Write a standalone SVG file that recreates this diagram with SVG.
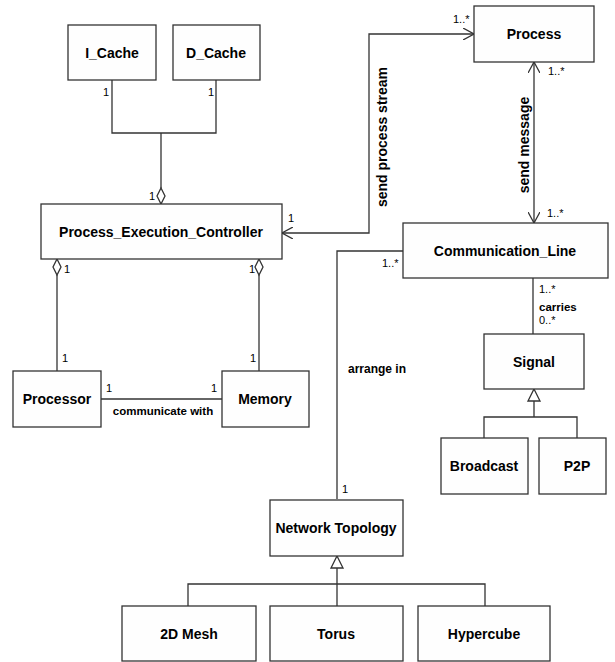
<svg xmlns="http://www.w3.org/2000/svg" width="615" height="662" viewBox="0 0 615 662">
<style>
.box{fill:#fefefe;stroke:#333;stroke-width:1.3}
.nl{font-family:"Liberation Sans",Arial,sans-serif;font-weight:bold;font-size:14px;fill:#000;text-anchor:middle}
.m{font-family:"Liberation Sans",Arial,sans-serif;font-size:11px;fill:#000}
.lb{font-family:"Liberation Sans",Arial,sans-serif;font-weight:bold;font-size:11.5px;fill:#000}
.rl{font-family:"Liberation Sans",Arial,sans-serif;font-weight:bold;font-size:14px;fill:#000;text-anchor:middle}
.c{fill:none;stroke:#333;stroke-width:1.3}
.dia{fill:#fff;stroke:#333;stroke-width:1.3}
</style>
<defs>
<marker id="open" viewBox="0 0 12 12" refX="11" refY="6" markerWidth="12" markerHeight="12" markerUnits="userSpaceOnUse" orient="auto-start-reverse">
<path d="M0,0 L11,6 L0,12" fill="none" stroke="#333" stroke-width="1.3"/>
</marker>
</defs>
<rect width="615" height="662" fill="#fff"/>
<g id="connectors">
<path class="c" d="M112,80 V133 H216 V80 M161,133 V188"/>
<path class="dia" d="M161,188 L165,196 L161,204 L157,196 Z"/>
<path class="dia" d="M57,259 L61,267 L57,275 L53,267 Z"/>
<path class="c" d="M57,275 V371"/>
<path class="dia" d="M259,259 L263,267 L259,275 L255,267 Z"/>
<path class="c" d="M259,275 V371"/>
<path class="c" d="M101,399 H222"/>
<path class="c" d="M282,233 H369 V34 H474" marker-start="url(#open)" marker-end="url(#open)"/>
<path class="c" d="M534,62 V223" marker-start="url(#open)" marker-end="url(#open)"/>
<path class="c" d="M403,251 H337 V499"/>
<path class="c" d="M533,278 V334"/>
<path class="dia" d="M534,389 L540,401 L528,401 Z"/>
<path class="c" d="M534,401 V417 M484,438 V417 H577 V438"/>
<path class="dia" d="M337,556 L343,568 L331,568 Z"/>
<path class="c" d="M337,568 V606 M188,606 V584 H485 V606"/>
<text class="m" x="103" y="96">1</text>
<text class="m" x="208" y="96">1</text>
<text class="m" x="155" y="200" text-anchor="end">1</text>
<text class="m" x="288" y="222">1</text>
<text class="m" x="64" y="273">1</text>
<text class="m" x="255" y="273" text-anchor="end">1</text>
<text class="m" x="62" y="362">1</text>
<text class="m" x="256" y="362" text-anchor="end">1</text>
<text class="m" x="106" y="392">1</text>
<text class="m" x="217" y="392" text-anchor="end">1</text>
<text class="lb" x="163" y="415" text-anchor="middle">communicate with</text>
<text class="m" x="453" y="23">1..*</text>
<text class="m" x="548" y="75">1..*</text>
<text class="m" x="547" y="217">1..*</text>
<text class="m" x="382" y="267">1..*</text>
<text class="m" x="539" y="293">1..*</text>
<text class="lb" x="539" y="311">carries</text>
<text class="m" x="539" y="324">0..*</text>
<text class="m" x="342" y="493">1</text>
<text class="lb" x="348" y="373" style="font-size:12px">arrange in</text>
<text class="rl" transform="translate(387,137) rotate(-90)">send process stream</text>
<text class="rl" transform="translate(529,145) rotate(-90)">send message</text>
</g>
<g id="I_Cache"><rect class="box" x="68" y="25" width="88" height="55"/><text class="nl" x="112" y="58">I_Cache</text></g>
<g id="D_Cache"><rect class="box" x="173" y="25" width="87" height="55"/><text class="nl" x="216" y="58">D_Cache</text></g>
<g id="Process"><rect class="box" x="474" y="6" width="120" height="56"/><text class="nl" x="534" y="39">Process</text></g>
<g id="Process_Execution_Controller"><rect class="box" x="41" y="204" width="241" height="55"/><text class="nl" x="161" y="237">Process_Execution_Controller</text></g>
<g id="Communication_Line"><rect class="box" x="403" y="223" width="205" height="55"/><text class="nl" x="505" y="256">Communication_Line</text></g>
<g id="Processor"><rect class="box" x="13" y="371" width="88" height="56"/><text class="nl" x="57" y="404">Processor</text></g>
<g id="Memory"><rect class="box" x="222" y="371" width="87" height="56"/><text class="nl" x="265" y="404">Memory</text></g>
<g id="Signal"><rect class="box" x="484" y="334" width="100" height="55"/><text class="nl" x="534" y="367">Signal</text></g>
<g id="Broadcast"><rect class="box" x="441" y="438" width="87" height="56"/><text class="nl" x="484" y="471">Broadcast</text></g>
<g id="P2P"><rect class="box" x="539" y="438" width="67" height="56"/><text class="nl" x="577" y="471">P2P</text></g>
<g id="Network_Topology"><rect class="box" x="270" y="500" width="133" height="56"/><text class="nl" x="336" y="533">Network Topology</text></g>
<g id="2D_Mesh"><rect class="box" x="122" y="606" width="134" height="55"/><text class="nl" x="189" y="639">2D Mesh</text></g>
<g id="Torus"><rect class="box" x="270" y="606" width="133" height="55"/><text class="nl" x="336" y="639">Torus</text></g>
<g id="Hypercube"><rect class="box" x="418" y="606" width="132" height="55"/><text class="nl" x="484" y="639">Hypercube</text></g>
</svg>
